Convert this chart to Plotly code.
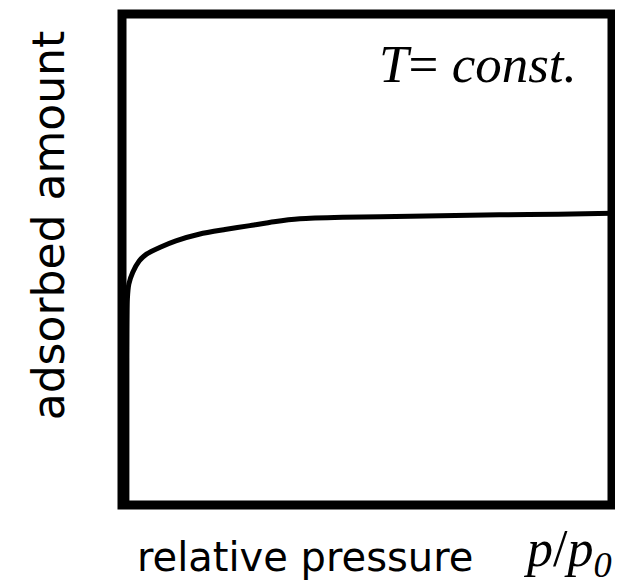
import plotly.graph_objects as go

# relative pressure p/p0 (0..1) and adsorbed amount (relative units, 0..1)
rel_pressure = [0.010, 0.010, 0.011, 0.014, 0.022, 0.035, 0.050, 0.078, 0.110, 0.159, 0.210, 0.261, 0.310, 0.363, 0.450, 0.527, 0.650, 0.770, 0.890, 1.000]
adsorbed = [0.000, 0.300, 0.420, 0.450, 0.474, 0.497, 0.511, 0.525, 0.538, 0.552, 0.561, 0.569, 0.577, 0.583, 0.586, 0.587, 0.589, 0.591, 0.592, 0.594]

# the page places the figure 8px in from the window's top-left corner
OFF = 8
WIN_W, WIN_H = 623, 582
W, H = WIN_W - OFF, WIN_H - OFF
# frame edges in window pixels
L, R, T, B = 122, 612, 13.5, 505

def px(x):
    return (x - L) / (R - L)

def py(y):
    return (B - y) / (B - T)

fig = go.Figure()
fig.add_trace(go.Scatter(
    x=rel_pressure, y=adsorbed, mode="lines",
    line=dict(color="black", width=5, shape="spline", smoothing=0.6),
    hoverinfo="skip", showlegend=False, cliponaxis=False,
))

fig.add_shape(type="rect", xref="paper", yref="paper", x0=0, x1=1, y0=0, y1=1,
              line=dict(color="black", width=9), fillcolor="rgba(0,0,0,0)", layer="above")

sans = "DejaVu Sans"
serif = "Liberation Serif"
fig.add_annotation(text="adsorbed amount", xref="paper", yref="paper",
                   x=px(48), y=py(225), xanchor="center", yanchor="middle",
                   textangle=-90, showarrow=False,
                   font=dict(family=sans, size=44, color="black"))
fig.add_annotation(text="relative pressure", xref="paper", yref="paper",
                   x=px(135), y=py(557), xanchor="left", yanchor="middle",
                   showarrow=False, font=dict(family=sans, size=40, color="black"))
fig.add_annotation(text="<i>p</i>/<i>p</i><sub><i>0</i></sub>", xref="paper", yref="paper",
                   x=px(521), y=py(553), xanchor="left", yanchor="middle",
                   showarrow=False, font=dict(family=serif, size=52, color="black"))
fig.add_annotation(text="<i>T</i>= <i>const.</i>", xref="paper", yref="paper",
                   x=px(579), y=py(64), xanchor="right", yanchor="middle",
                   showarrow=False, font=dict(family=serif, size=53, color="black"))

fig.update_layout(
    width=W, height=H,
    margin=dict(l=L - OFF, r=WIN_W - R, t=T - OFF, b=WIN_H - B, pad=0),
    paper_bgcolor="white", plot_bgcolor="white",
    xaxis=dict(range=[0, 1], visible=False, fixedrange=True),
    yaxis=dict(range=[0, 1], visible=False, fixedrange=True),
)

fig.write_html("out.html")
